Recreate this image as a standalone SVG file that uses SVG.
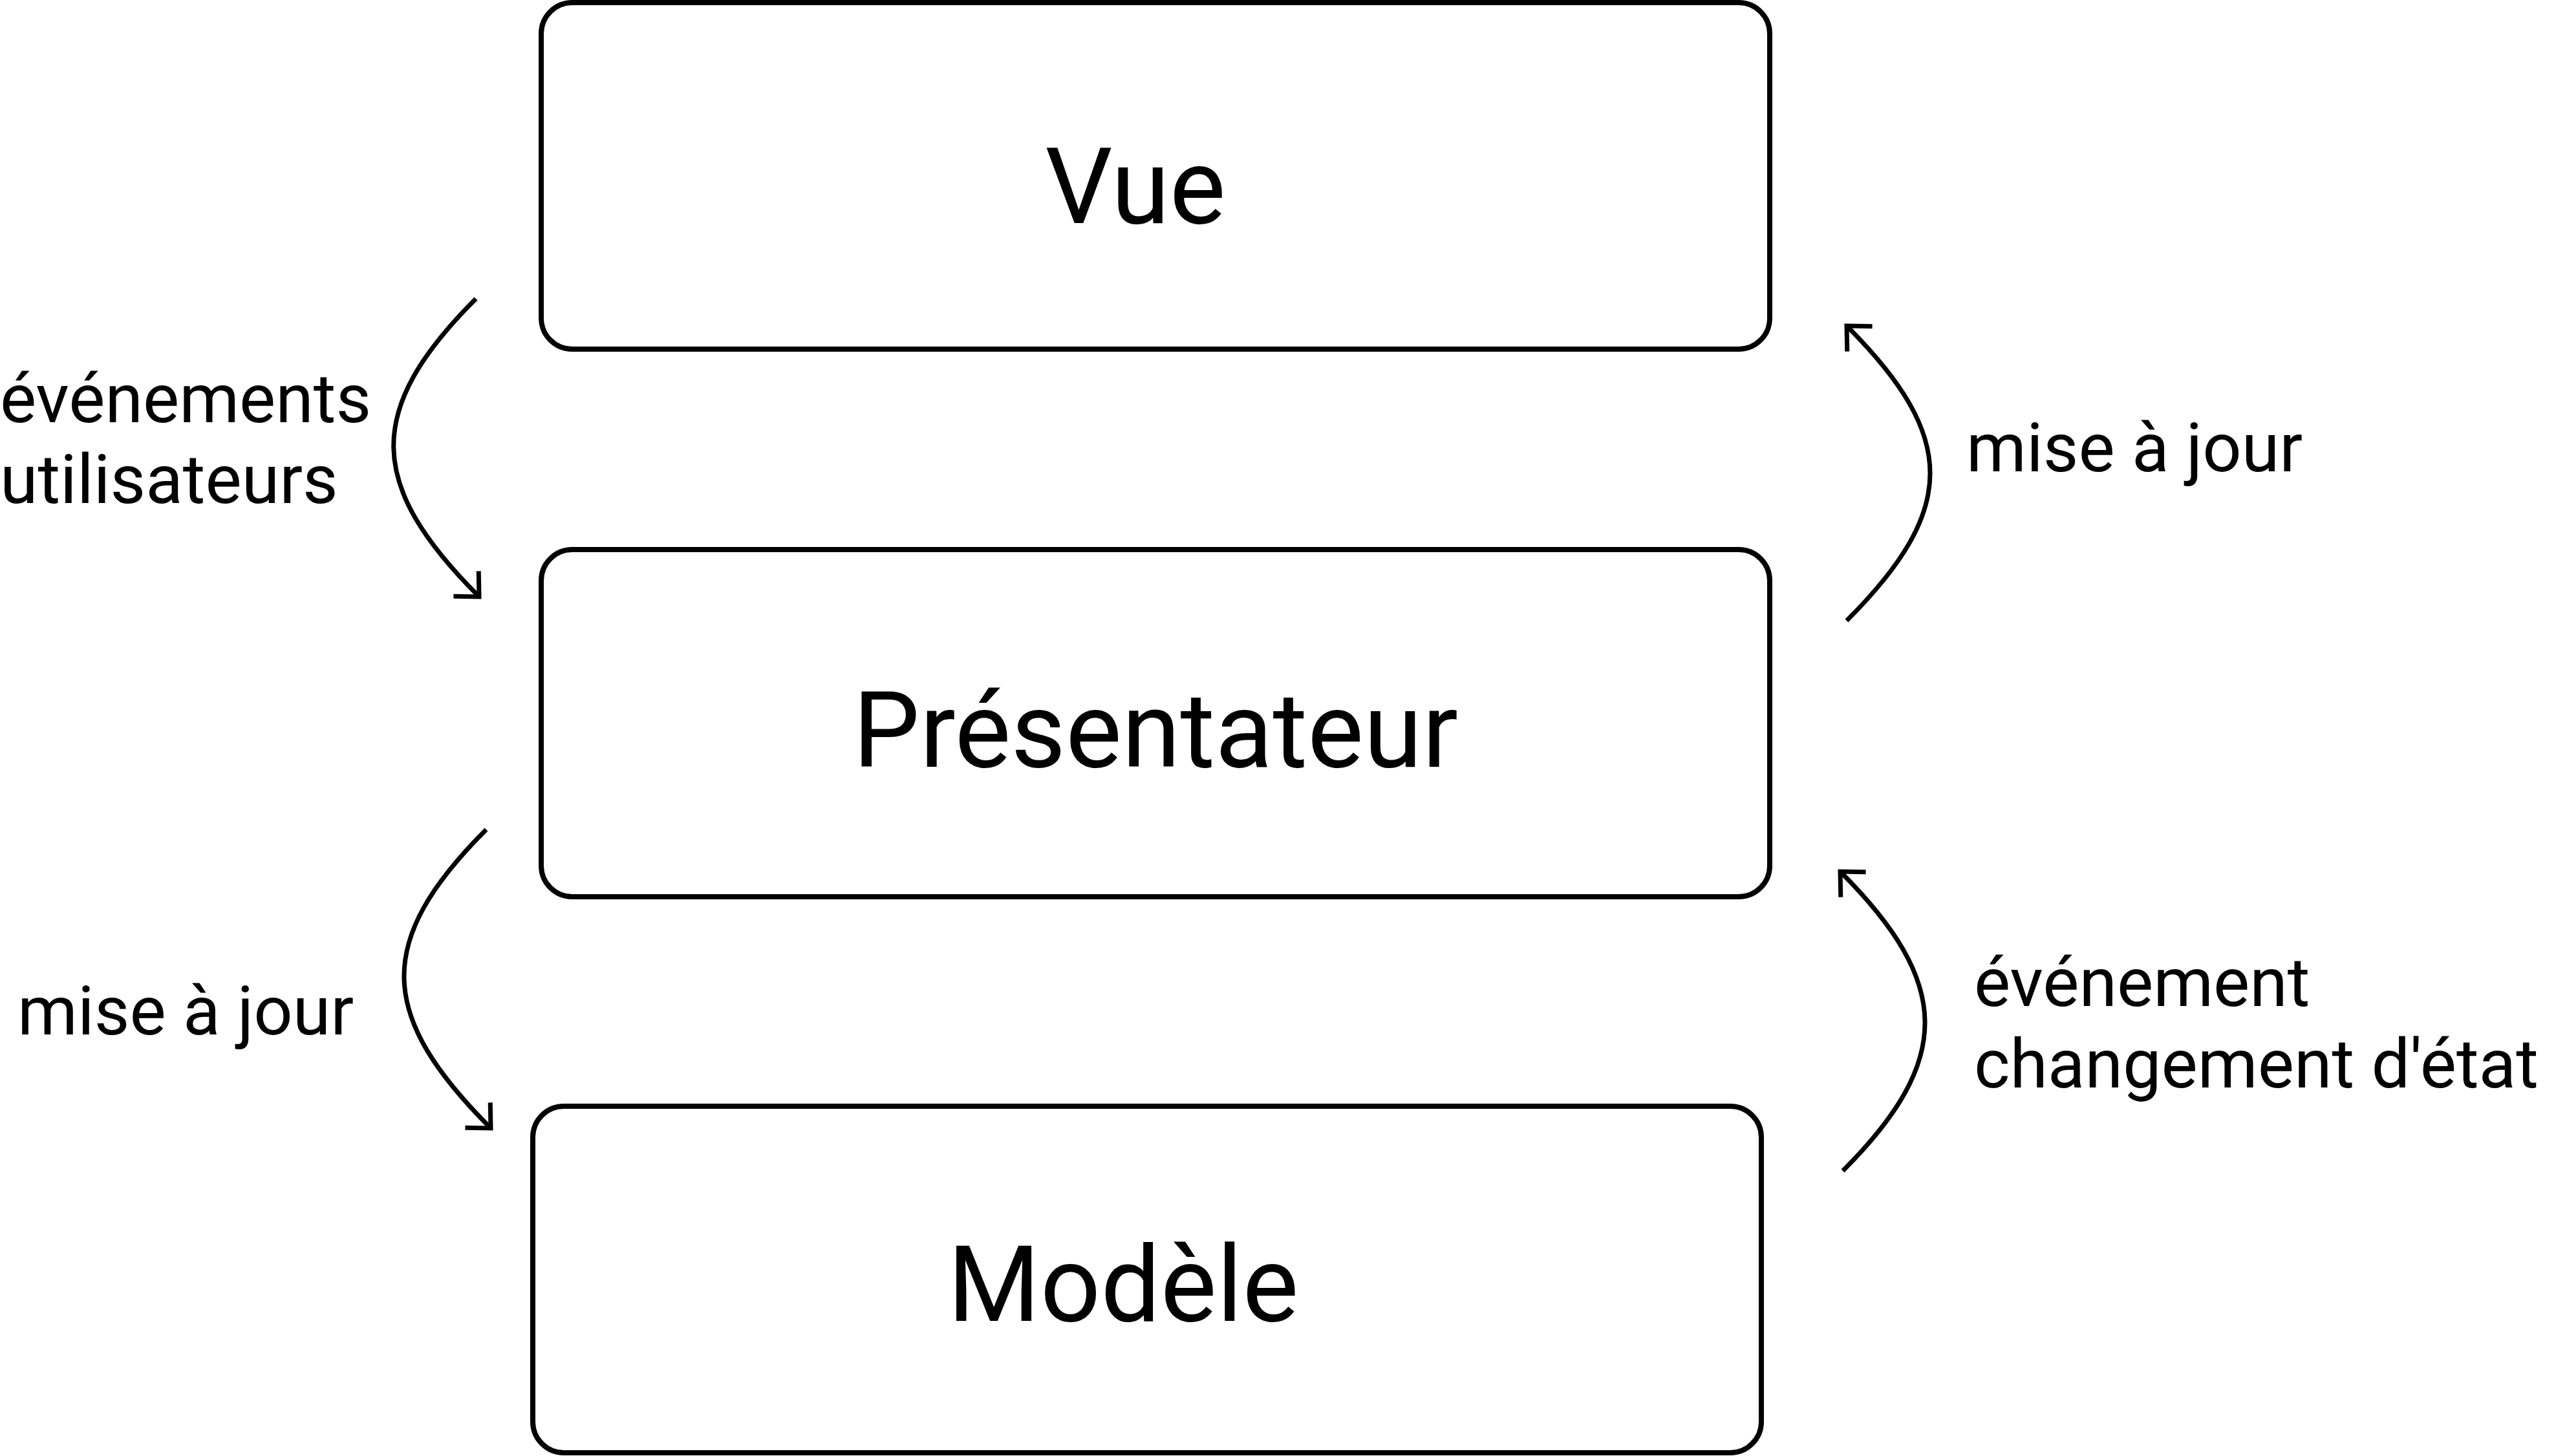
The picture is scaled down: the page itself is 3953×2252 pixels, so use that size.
<svg xmlns="http://www.w3.org/2000/svg" width="3953" height="2252" viewBox="0 0 3953 2252">
  <style>
    .box { fill: #ffffff; stroke: #000000; stroke-width: 8; }
    .title { font-family: Roboto, "Liberation Sans", sans-serif; font-size: 164px; fill: #000000; text-anchor: middle; }
    .lbl { font-family: Roboto, "Liberation Sans", sans-serif; font-size: 106px; fill: #000000; }
    .conn { fill: none; stroke: #000000; stroke-width: 7; marker-end: url(#arrow); }
  </style>
  <defs>
    <marker id="arrow" markerUnits="userSpaceOnUse" viewBox="-40 -40 50 80" refX="0" refY="0" markerWidth="50" markerHeight="80" orient="auto" overflow="visible">
      <path d="M-26,-25 L0,0 L-26,25" fill="none" stroke="#000000" stroke-width="7" stroke-linecap="square"/>
    </marker>
  </defs>
  <rect width="3953" height="2252" fill="#ffffff"/>

  <g id="vue">
    <rect class="box" x="837" y="4" width="1900" height="536" rx="48" ry="48"/>
    <text class="title" x="1756" y="345">Vue</text>
  </g>

  <g id="presentateur">
    <rect class="box" x="837" y="850" width="1900" height="537" rx="48" ry="48"/>
    <text class="title" x="1787" y="1186">Présentateur</text>
  </g>

  <g id="modele">
    <rect class="box" x="824" y="1711" width="1900" height="536" rx="48" ry="48"/>
    <text class="title" x="1737" y="2043">Modèle</text>
  </g>

  <g id="connectors">
    <path class="conn" d="M736,462 C563,635 568,750 741,923"/>
    <path class="conn" d="M2856,960 C3028,788 3028,676 2856,504"/>
    <path class="conn" d="M752,1283 C578,1457 585,1571 759,1745"/>
    <path class="conn" d="M2850,1811 C3022,1639 3018,1520 2846,1348"/>
  </g>

  <g id="labels">
    <text class="lbl" x="0" y="653">événements</text>
    <text class="lbl" x="0" y="778">utilisateurs</text>
    <text class="lbl" x="3041" y="729">mise à jour</text>
    <text class="lbl" x="27" y="1600">mise à jour</text>
    <text class="lbl" x="3053" y="1556">événement</text>
    <text class="lbl" x="3053" y="1682">changement d'état</text>
  </g>
</svg>
